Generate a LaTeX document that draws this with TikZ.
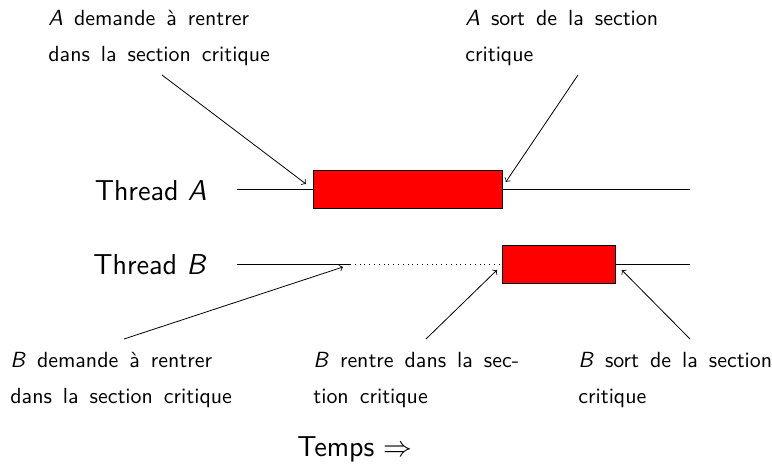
\documentclass[tikz,border=0pt]{standalone}
\newcommand{\notefont}{\sffamily\fontsize{10.95}{18}\selectfont\spaceskip=5.5pt plus 1pt\relax}
\tikzstyle{every node}=[font=\sffamily, inner sep=0pt]
\tikzstyle{thread}=[anchor=base east, font=\sffamily\fontsize{14.4}{17}\selectfont]
\tikzstyle{note}=[anchor=base west, align=left, font=\notefont]
\tikzstyle{section}=[draw, fill=red, anchor=west, minimum height=19pt]
\newcommand{\thr}[1]{\textit{#1}}

\begin{document}
\begin{tikzpicture}[x=0.5pt, y=-0.5pt]
  \useasboundingbox (0,0) rectangle (772,465);
  \node[thread] (thA) at (207,200) {Thread \thr{A}};
  \node[thread] (thB) at (207,274) {Thread \thr{B}};
  \coordinate (a0) at (237,189);
  \coordinate (a1) at (690,189);
  \coordinate (b0) at (237,264);
  \coordinate (b1) at (350,264);
  \coordinate (b2) at (690,264);
  \node[section, minimum width=94.5pt] (secA) at (313,189) {};
  \node[section, minimum width=56.5pt] (secB) at (502,264) {};
  \draw (a0) -- (secA.west);
  \draw (secA.east) -- (a1);
  \draw (b0) -- (b1);
  \draw[dotted] (b1) -- (secB.west);
  \draw (secB.east) -- (b2);
  \node[note] (askA) at (48,62) {\thr{A} demande à rentrer\\dans la section critique};
  \node[note] (outA) at (465,62) {\thr{A} sort de la section\\critique};
  \node[note] (askB) at (10,403) {\thr{B} demande à rentrer\\dans la section critique};
  \node[note] (inB) at (313,403) {\thr{B} rentre dans la sec-\\tion critique};
  \node[note] (outB) at (578,403) {\thr{B} sort de la section\\critique};
  \coordinate (askA0) at (162,75);
  \coordinate (outA0) at (578,75);
  \coordinate (askB0) at (124,339);
  \coordinate (inB0) at (426,339);
  \coordinate (outB0) at (690,339);
  \draw[->] (askA0) -- ([shift={(-7,-5)}]secA.west);
  \draw[->] (outA0) -- ([shift={(3,-7)}]secA.east);
  \draw[->] (askB0) -- ([shift={(-7,3)}]b1);
  \draw[->] (inB0) -- ([shift={(-5,6)}]secB.west);
  \draw[->] (outB0) -- ([shift={(6,6)}]secB.east);
  \node[anchor=base, font=\sffamily\fontsize{14.4}{17}\selectfont] (temps) at (355,456) {Temps $\Rightarrow$};
\end{tikzpicture}
\end{document}
